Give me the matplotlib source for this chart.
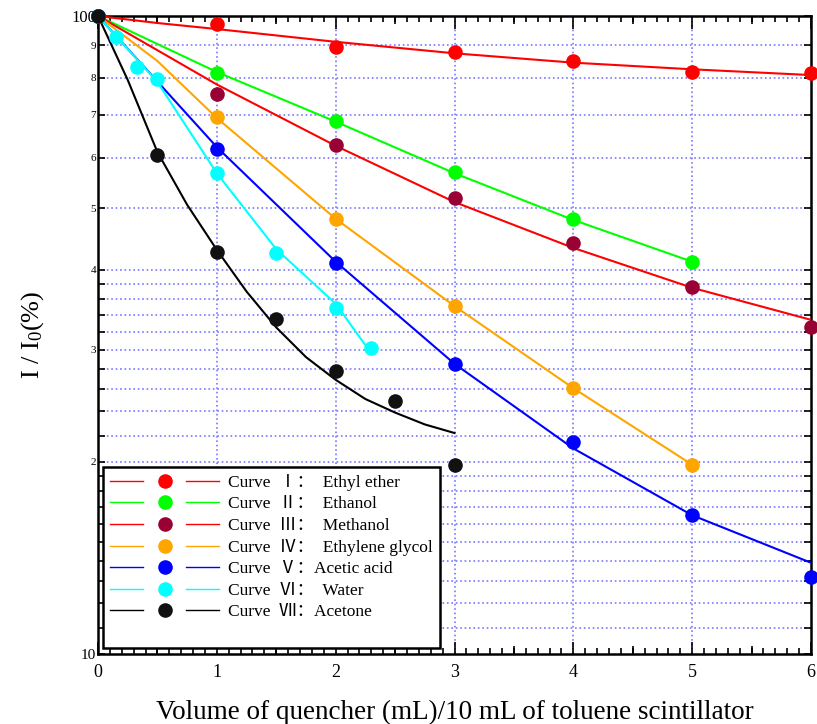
import matplotlib
matplotlib.use("Agg")

import matplotlib.pyplot as plt
from matplotlib.legend_handler import HandlerTuple
from matplotlib.lines import Line2D
from matplotlib.ticker import FixedLocator, MultipleLocator, NullFormatter

plt.rcParams["font.family"] = ["Liberation Serif", "Noto Sans CJK SC"]
plt.rcParams["mathtext.fontset"] = "custom"
plt.rcParams["mathtext.rm"] = "Liberation Serif"
plt.rcParams["mathtext.it"] = "Liberation Serif:italic"

# measured points (I/I0 in %)
ether_x = [0, 1, 2, 3, 4, 5, 6]
ether_y = [100, 97.2, 89.4, 87.9, 84.9, 81.6, 81.5]
ethanol_x = [0, 1, 2, 3, 4, 5]
ethanol_y = [100, 81.3, 68.5, 57.0, 48.1, 41.1]
methanol_x = [0, 1, 2, 3, 4, 5, 6]
methanol_y = [100, 75.6, 62.8, 51.8, 44.1, 37.6, 32.6]
glycol_x = [0, 1, 2, 3, 4, 5]
glycol_y = [100, 69.4, 48.1, 35.1, 26.1, 19.8]
acetic_x = [0, 1, 2, 3, 4, 5, 6]
acetic_y = [100, 61.9, 41.0, 28.5, 21.5, 16.5, 13.2]
water_x = [0, 0.15, 0.33, 0.5, 1, 1.5, 2, 2.3]
water_y = [100, 92.6, 83.3, 79.7, 56.7, 42.5, 34.8, 30.2]
acetone_x = [0, 0.5, 1, 1.5, 2, 2.5, 3]
acetone_y = [100, 60.5, 42.6, 33.5, 27.8, 24.9, 19.8]

# fitted curves
ether_fit_x = [0, 0.5, 1, 2, 3, 4, 5, 6]
ether_fit_y = [100, 97.5, 95.4, 91.1, 87.4, 84.5, 82.5, 80.8]
ethanol_fit_x = [0, 1, 2, 3, 4, 5]
ethanol_fit_y = [100, 81.7, 68.3, 56.7, 47.9, 41.2]
methanol_fit_x = [0, 1, 2, 3, 4, 5, 6]
methanol_fit_y = [100, 78.1, 62.6, 51.1, 43.3, 37.5, 33.4]
glycol_fit_x = [0, 0.5, 1, 2, 3, 4, 5]
glycol_fit_y = [100, 85.0, 69.2, 48.1, 35.1, 26.1, 19.8]
acetic_fit_x = [0, 1, 2, 3, 4, 5, 6]
acetic_fit_y = [100, 62.3, 41.2, 28.5, 21.0, 16.5, 13.9]
water_fit_x = [0, 0.5, 1, 1.5, 2, 2.26]
water_fit_y = [100, 78.8, 56.7, 43.1, 35.4, 30.3]
acetone_fit_x = [0, 0.25, 0.5, 0.75, 1, 1.25, 1.5, 1.75, 2, 2.25, 2.5, 2.75, 3]
acetone_fit_y = [100, 79.4, 61.2, 50.6, 43.0, 37.0, 32.5, 29.2, 26.9, 25.1, 23.9, 22.9, 22.2]

labels = [
    "Curve  Ⅰ：  Ethyl ether",
    "Curve  Ⅱ：  Ethanol",
    "Curve  Ⅲ：  Methanol",
    "Curve  Ⅳ：  Ethylene glycol",
    "Curve  Ⅴ：Acetic acid",
    "Curve  Ⅵ：  Water",
    "Curve  Ⅶ：Acetone",
]
line_colors = ["#ff0000", "#00ff00", "#ff0000", "#ffa500", "#0000ff", "#00ffff", "#000000"]
marker_colors = ["#ff0000", "#00ff00", "#990033", "#ffa500", "#0000ff", "#00ffff", "#111111"]

y_major = [10, 20, 30, 40, 50, 60, 70, 80, 90, 100]
y_major_labels = ["10", "2", "3", "4", "5", "6", "7", "8", "9", "100"]
y_minor = [11, 12, 13, 14, 15, 16, 17, 18, 19, 22, 24, 26, 28, 32, 34, 36, 38]

points = [
    (ether_x, ether_y), (ethanol_x, ethanol_y), (methanol_x, methanol_y),
    (glycol_x, glycol_y), (acetic_x, acetic_y), (water_x, water_y),
    (acetone_x, acetone_y),
]
fits = [
    (ether_fit_x, ether_fit_y), (ethanol_fit_x, ethanol_fit_y),
    (methanol_fit_x, methanol_fit_y), (glycol_fit_x, glycol_fit_y),
    (acetic_fit_x, acetic_fit_y), (water_fit_x, water_fit_y),
    (acetone_fit_x, acetone_fit_y),
]

fig = plt.figure(figsize=(8.17, 7.24), dpi=100)
ax = fig.add_axes([98 / 817, 1 - 654 / 724, 713 / 817, 638 / 724])
ax.set_yscale("log")
ax.set_xlim(0, 6)
ax.set_ylim(10, 100)

grid_color = "#7878ff"
for v in y_major[1:-1] + y_minor:
    ax.axhline(v, color=grid_color, ls=":", lw=1.2, zorder=1)
for v in [1, 2, 3, 4, 5]:
    ax.axvline(v, color=grid_color, ls=":", lw=1.2, zorder=1)

for (fx, fy), c in zip(fits, line_colors):
    ax.plot(fx, fy, color=c, lw=1.5, zorder=3)
for (px, py), c in zip(points, marker_colors):
    ax.plot(px, py, ls="none", marker="o", ms=10.5, color=c,
            markeredgewidth=0, zorder=4, clip_on=False)

# axes and ticks
for s in ax.spines.values():
    s.set_linewidth(1.8)
ax.xaxis.set_major_locator(MultipleLocator(1))
ax.xaxis.set_minor_locator(MultipleLocator(0.1))
ax.yaxis.set_major_locator(FixedLocator(y_major))
ax.yaxis.set_minor_locator(FixedLocator(y_minor))
ax.yaxis.set_minor_formatter(NullFormatter())
ax.set_yticklabels(y_major_labels)
ax.tick_params(which="both", direction="in", top=True, right=True, width=1.2)
ax.tick_params(axis="x", which="major", length=9, pad=7, labelsize=13)
ax.tick_params(axis="x", which="minor", length=4.3)
ax.tick_params(axis="y", which="major", length=5, pad=1.5, labelsize=8)
ax.tick_params(axis="y", which="minor", length=5)
for lbl in ax.get_yticklabels():
    if lbl.get_text() == "100":
        lbl.set_fontsize(12)
    elif lbl.get_text() == "10":
        lbl.set_fontsize(11)

half_ticks = [0.5, 1.5, 2.5, 3.5, 4.5, 5.5]
for loc in ["top", "bottom"]:
    sec = ax.secondary_xaxis(loc)
    sec.set_xticks(half_ticks)
    sec.tick_params(direction="in", length=6, width=1.2,
                    labelbottom=False, labeltop=False)
    sec.spines[loc].set_visible(False)

ax.set_xlabel("Volume of quencher (mL)/10 mL of toluene scintillator",
              fontsize=19.5, labelpad=14)
ax.set_ylabel("I / I$_0$(%)", fontsize=19, labelpad=18)

# legend: line - marker - line
handles = []
for lc, mc in zip(line_colors, marker_colors):
    ln = Line2D([], [], color=lc, lw=1.0)
    mk = Line2D([], [], ls="none", marker="o", ms=10.5, color=mc, markeredgewidth=0)
    handles.append((ln, mk, ln))
handles.append(Line2D([], [], ls="none"))
leg = ax.legend(
    handles, labels + [" "],
    handler_map={tuple: HandlerTuple(ndivide=None, pad=0.27)},
    loc="lower left", bbox_to_anchor=(0.007, 0.009), borderaxespad=0,
    fontsize=12.5, handlelength=6.3, handletextpad=0.5, labelspacing=0.3,
    borderpad=0.4, fancybox=False, framealpha=1, edgecolor="black",
)
leg.get_frame().set_linewidth(1.8)
leg.set_zorder(5)

fig.savefig("out.png", dpi=100)
